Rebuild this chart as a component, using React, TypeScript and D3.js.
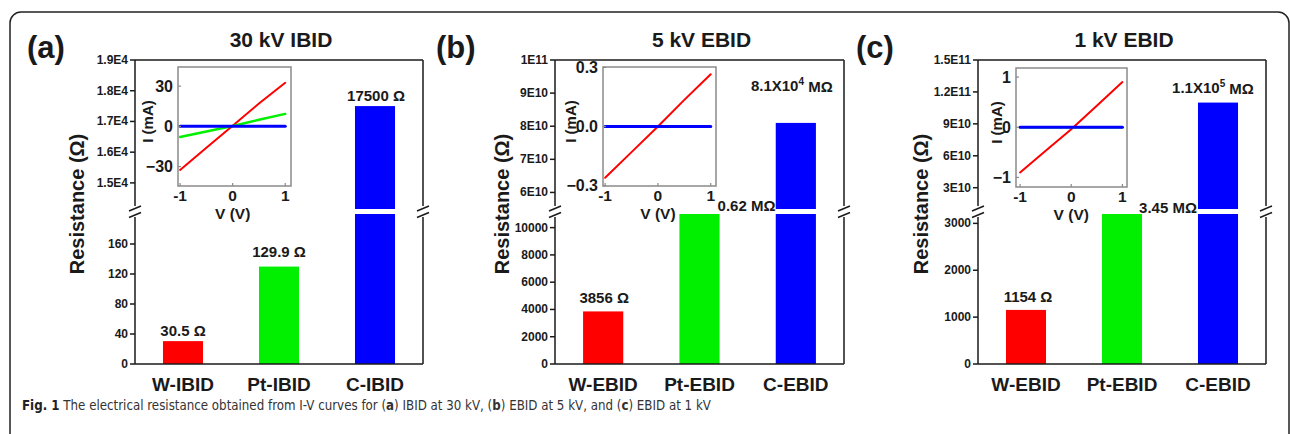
import { useEffect, useRef, useState } from "react";
import * as d3 from "d3";

// ---- data ----
const catsIBID = ["W-IBID", "Pt-IBID", "C-IBID"];
const catsEBID = ["W-EBID", "Pt-EBID", "C-EBID"];

const resA = [30.5, 129.9, 17500];
const resB = [3856, 620000, 8.1e10];
const resC = [1154, 3.45e6, 1.1e11];

const labelsA = ["30.5 Ω", "129.9 Ω", "17500 Ω"];
const labelsB = ["3856 Ω", "0.62 MΩ", "8.1X10|4| MΩ"];
const labelsC = ["1154 Ω", "3.45 MΩ", "1.1X10|5| MΩ"];

const lowTicksA = [0, 40, 80, 120, 160];
const lowTicksB = [0, 2000, 4000, 6000, 8000, 10000];
const lowTicksC = [0, 1000, 2000, 3000];
const upTicksA = [1.5e4, 1.6e4, 1.7e4, 1.8e4, 1.9e4];
const upTicksB = [6e10, 7e10, 8e10, 9e10, 1e11];
const upTicksC = [3e10, 6e10, 9e10, 1.2e11, 1.5e11];
const upTickLabelsA = ["1.5E4", "1.6E4", "1.7E4", "1.8E4", "1.9E4"];
const upTickLabelsB = ["6E10", "7E10", "8E10", "9E10", "1E11"];
const upTickLabelsC = ["3E10", "6E10", "9E10", "1.2E11", "1.5E11"];

// I-V insets
const volts = [-1, -0.5, 0, 0.5, 1];
const ivA_W = [-32.5, -16, 0.5, 17, 32.5];
const ivA_Pt = [-8, -3.8, 0.3, 4.9, 9.3];
const ivA_C = [0, 0, 0, 0, 0];
const ivB_W = [-0.26, -0.13, 0.0, 0.135, 0.265];
const ivB_Pt = [0, 0, 0, 0, 0];
const ivB_C = [0, 0, 0, 0, 0];
const ivC_W = [-0.9, -0.47, -0.04, 0.43, 0.9];
const ivC_Pt = [0, 0, 0, 0, 0];
const ivC_C = [0, 0, 0, 0, 0];

const colors = ["#ff0000", "#00f000", "#0000ff"];
const ink = "#1a1a1a";
const font = "'Liberation Sans', Arial, sans-serif";

const TOP = 60, BOTTOM = 364, BRK_UP = 209, BRK_LO = 214;

type Inset = {
  x0: number; x1: number; y0: number; y1: number;
  xDomain: [number, number]; yDomain: [number, number];
  yTicks: number[]; yFmt: (d: number) => string; yLabDx: number;
  series: number[][];
};

type Panel = {
  letter: string; letterX: number; title: string;
  cats: string[]; values: number[]; labels: string[];
  labelOff: [number, number][];
  x0: number; x1: number; yLabelX: number;
  lowDomain: [number, number]; upDomain: [number, number];
  lowTicks: number[]; upTicks: number[]; upTickLabels: string[];
  inset: Inset;
};

const panels: Panel[] = [
  {
    letter: "(a)", letterX: 27, title: "30 kV IBID",
    cats: catsIBID, values: resA, labels: labelsA,
    labelOff: [[0, -11], [0, -15], [1, -11]],
    x0: 135, x1: 423, yLabelX: 77,
    lowDomain: [0, 200], upDomain: [14150, 19000],
    lowTicks: lowTicksA, upTicks: upTicksA, upTickLabels: upTickLabelsA,
    inset: {
      x0: 178, x1: 291, y0: 67, y1: 186,
      xDomain: [-1.04, 1.11], yDomain: [-44.5, 44.3],
      yTicks: [-30, 0, 30], yFmt: d3.format("d"), yLabDx: -31,
      series: [ivA_W, ivA_Pt, ivA_C],
    },
  },
  {
    letter: "(b)", letterX: 436, title: "5 kV EBID",
    cats: catsEBID, values: resB, labels: labelsB,
    labelOff: [[1, -14], [47, -9], [-4, -37]],
    x0: 555, x1: 844, yLabelX: 502,
    lowDomain: [0, 11000], upDomain: [5.5e10, 1e11],
    lowTicks: lowTicksB, upTicks: upTicksB, upTickLabels: upTickLabelsB,
    inset: {
      x0: 603, x1: 716, y0: 67, y1: 186,
      xDomain: [-1.04, 1.1], yDomain: [-0.302, 0.302],
      yTicks: [-0.3, 0, 0.3], yFmt: d3.format(".1f"), yLabDx: -33,
      series: [ivB_W, ivB_Pt, ivB_C],
    },
  },
  {
    letter: "(c)", letterX: 856, title: "1 kV EBID",
    cats: catsEBID, values: resC, labels: labelsC,
    labelOff: [[2, -13], [46, -7], [-5, -15]],
    x0: 978, x1: 1266, yLabelX: 921,
    lowDomain: [0, 3200], upDomain: [1e10, 1.5e11],
    lowTicks: lowTicksC, upTicks: upTicksC, upTickLabels: upTickLabelsC,
    inset: {
      x0: 1016, x1: 1127, y0: 68, y1: 187,
      xDomain: [-1.08, 1.09], yDomain: [-1.19, 1.18],
      yTicks: [-1, 0, 1], yFmt: d3.format("d"), yLabDx: -20,
      series: [ivC_W, ivC_Pt, ivC_C],
    },
  },
];

const BarLabel = ({ text, x, y }: { text: string; x: number; y: number }) => {
  const parts = text.split("|");
  return (
    <text x={x} y={y} textAnchor="middle" dominantBaseline="central"
      fontFamily={font} fontWeight="bold" fontSize={15} fill={ink}>
      {parts.length === 1 ? text : (
        <>
          {parts[0]}
          <tspan fontSize={10} dy={-5}>{parts[1]}</tspan>
          <tspan dy={5}>{parts[2]}</tspan>
        </>
      )}
    </text>
  );
};

const InsetPlot = ({ c }: { c: Inset }) => {
  const x = d3.scaleLinear().domain(c.xDomain).range([c.x0, c.x1]);
  const y = d3.scaleLinear().domain(c.yDomain).range([c.y1, c.y0]);
  const line = d3.line<number>().x((_, i) => x(volts[i])).y((d) => y(d));
  const widths = [2, 2.5, 3];
  return (
    <g>
      <rect x={c.x0} y={c.y0} width={c.x1 - c.x0} height={c.y1 - c.y0}
        fill="white" stroke="#8a8a8a" strokeWidth={1.5} />
      {c.series.map((s, i) => (
        <path key={i} d={line(s) || ""} fill="none" stroke={colors[i]}
          strokeWidth={widths[i]} strokeLinecap="round" />
      ))}
      {[-1, 0, 1].map((t) => (
        <g key={t}>
          <line x1={x(t)} x2={x(t)} y1={c.y1} y2={c.y1 - 3} stroke="#8a8a8a" strokeWidth={1.2} />
          <text x={x(t)} y={c.y1 + 9.5} textAnchor="middle" dominantBaseline="central"
            fontFamily={font} fontWeight="bold" fontSize={15.5} fill={ink}>{t}</text>
        </g>
      ))}
      {c.yTicks.map((t) => (
        <g key={t}>
          <line x1={c.x0} x2={c.x0 + 3} y1={y(t)} y2={y(t)} stroke="#8a8a8a" strokeWidth={1.2} />
          <text x={c.x0 - 5} y={y(t)} textAnchor="end" dominantBaseline="central"
            fontFamily={font} fontWeight="bold" fontSize={16} fill={ink}>{c.yFmt(t)}</text>
        </g>
      ))}
      <text x={x(0)} y={c.y1 + 27} textAnchor="middle" dominantBaseline="central"
        fontFamily={font} fontWeight="bold" fontSize={15.5} fill={ink}>V (V)</text>
      <text transform={`translate(${c.x0 + c.yLabDx},${(c.y0 + c.y1) / 2 - 5}) rotate(-90)`}
        textAnchor="middle" dominantBaseline="central"
        fontFamily={font} fontWeight="bold" fontSize={15} fill={ink}>I (mA)</text>
    </g>
  );
};

const BarPanel = ({ p }: { p: Panel }) => {
  const xb = d3.scaleBand<string>().domain(p.cats).range([p.x0, p.x1])
    .paddingInner(0.583).paddingOuter(0.2915);
  const yLo = d3.scaleLinear().domain(p.lowDomain).range([BOTTOM, BRK_LO]).clamp(true);
  const yUp = d3.scaleLinear().domain(p.upDomain).range([BRK_UP, TOP]).clamp(true);
  const gapA = BRK_UP - 3, gapB = BRK_LO + 3;
  const marks = [BRK_UP - 0.5, BRK_LO + 1];

  return (
    <g>
      <text x={p.letterX} y={47} dominantBaseline="central" fontFamily={font}
        fontWeight="bold" fontSize={31} fill={ink}>{p.letter}</text>
      <text x={(p.x0 + p.x1) / 2 + 2} y={39} textAnchor="middle" dominantBaseline="central"
        fontFamily={font} fontWeight="bold" fontSize={21} fill={ink}>{p.title}</text>
      <text transform={`translate(${p.yLabelX},204) rotate(-90)`} textAnchor="middle"
        dominantBaseline="central" fontFamily={font} fontWeight="bold" fontSize={20} fill={ink}>
        Resistance (Ω)
      </text>

      {/* bars */}
      {p.values.map((v, i) => {
        const bx = xb(p.cats[i])!;
        const lowTop = yLo(v);
        const showUp = v > p.upDomain[0];
        const top = showUp ? yUp(v) : lowTop;
        return (
          <g key={i}>
            <rect x={bx} width={xb.bandwidth()} y={lowTop} height={BOTTOM - lowTop} fill={colors[i]} />
            {showUp && (
              <rect x={bx} width={xb.bandwidth()} y={top} height={BRK_UP - top} fill={colors[i]} />
            )}
            <BarLabel text={p.labels[i]} x={bx + xb.bandwidth() / 2 + p.labelOff[i][0]}
              y={top + p.labelOff[i][1]} />
          </g>
        );
      })}

      {/* frame */}
      <line x1={p.x0} x2={p.x1} y1={TOP} y2={TOP} stroke={ink} strokeWidth={1.5} />
      <line x1={p.x0} x2={p.x1} y1={BOTTOM} y2={BOTTOM} stroke={ink} strokeWidth={1.5} />
      {[p.x0, p.x1].map((ax) => (
        <g key={ax}>
          <line x1={ax} x2={ax} y1={TOP} y2={gapA} stroke={ink} strokeWidth={1.5} />
          <line x1={ax} x2={ax} y1={gapB} y2={BOTTOM} stroke={ink} strokeWidth={1.5} />
          {marks.map((m) => (
            <line key={m} x1={ax - 6} x2={ax + 6} y1={m + 2.5} y2={m - 2.5}
              stroke={ink} strokeWidth={1.5} />
          ))}
        </g>
      ))}

      {/* y ticks */}
      {p.lowTicks.map((t) => (
        <g key={"l" + t}>
          <line x1={p.x0 - 5} x2={p.x0} y1={yLo(t)} y2={yLo(t)} stroke={ink} strokeWidth={1.5} />
          <text x={p.x0 - 7} y={yLo(t)} textAnchor="end" dominantBaseline="central"
            fontFamily={font} fontWeight="bold" fontSize={12} fill={ink}>{t}</text>
        </g>
      ))}
      {p.upTicks.map((t, i) => (
        <g key={"u" + t}>
          <line x1={p.x0 - 5} x2={p.x0} y1={yUp(t)} y2={yUp(t)} stroke={ink} strokeWidth={1.5} />
          <text x={p.x0 - 7} y={yUp(t)} textAnchor="end" dominantBaseline="central"
            fontFamily={font} fontWeight="bold" fontSize={12} fill={ink}>{p.upTickLabels[i]}</text>
        </g>
      ))}

      {/* categories */}
      {p.cats.map((c) => (
        <text key={c} x={xb(c)! + xb.bandwidth() / 2} y={384} textAnchor="middle"
          dominantBaseline="central" fontFamily={font} fontWeight="bold" fontSize={19} fill={ink}>
          {c}
        </text>
      ))}

      <InsetPlot c={p.inset} />
    </g>
  );
};

const Caption = () => {
  const ref = useRef<SVGTextElement>(null);
  const [size, setSize] = useState(15);
  useEffect(() => {
    if (!ref.current) return;
    const w = ref.current.getComputedTextLength();
    if (w > 0 && Math.abs(w - 690) > 3) setSize((s) => (s * 690) / w);
  }, [size]);
  return (
    <text ref={ref} x={22} y={410} fontFamily="'Liberation Sans Narrow', 'DejaVu Sans Condensed', sans-serif"
      fontSize={size} fill="#333">
      <tspan fontWeight="bold" fill="#222">Fig. 1</tspan>
      {" The electrical resistance obtained from I-V curves for ("}
      <tspan fontWeight="bold">a</tspan>
      {") IBID at 30 kV, ("}
      <tspan fontWeight="bold">b</tspan>
      {") EBID at 5 kV, and ("}
      <tspan fontWeight="bold">c</tspan>
      {") EBID at 1 kV"}
    </text>
  );
};

export default function App() {
  return (
    <svg width={1290} height={434} style={{ position: "absolute", left: 0, top: 0, background: "white" }}>
      <rect x={10} y={12} width={1279} height={460} rx={11} fill="white" stroke="#222" strokeWidth={1.5} />
      {panels.map((p) => <BarPanel key={p.letter} p={p} />)}
      <Caption />
    </svg>
  );
}
